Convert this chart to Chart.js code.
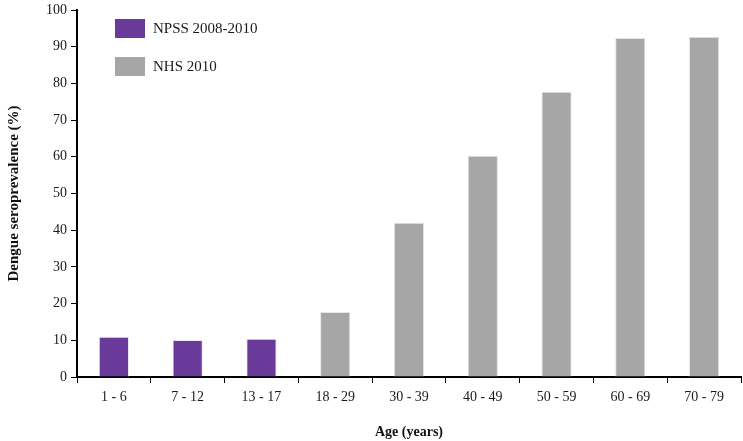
<!DOCTYPE html>
<html><head><meta charset="utf-8">
<script src="https://cdn.jsdelivr.net/npm/chart.js@4"></script>
<style>html,body{margin:0;padding:0;background:#fff}#wrap{width:743px;height:441px}</style>
</head><body><div id="wrap"><canvas id="c"></canvas></div>
<script>
const categories = ["1 - 6","7 - 12","13 - 17","18 - 29","30 - 39","40 - 49","50 - 59","60 - 69","70 - 79"];
const npssValues = [11.0, 10.1, 10.4, null, null, null, null, null, null];
const nhsValues = [null, null, null, 17.7, 42.0, 60.3, 77.7, 92.4, 92.7];
const seriesLabels = ["NPSS 2008-2010", "NHS 2010"];
const seriesColors = ["#6a3a9a", "#a6a6a6"];
const yTicks = [0,10,20,30,40,50,60,70,80,90,100];

const FONT = "'Liberation Serif', 'Times New Roman', serif";

const legendPlugin = {
  id: 'customLegend',
  afterDraw(chart) {
    const ctx = chart.ctx;
    const area = chart.chartArea;
    ctx.save();
    chart.data.datasets.forEach((ds, i) => {
      const x = area.left + 38;
      const y = area.top + 9 + i * 38;
      ctx.fillStyle = ds.backgroundColor;
      ctx.fillRect(x, y, 30, 19);
      ctx.fillStyle = '#1a1a1a';
      ctx.font = "15px " + FONT;
      ctx.textBaseline = 'middle';
      ctx.textAlign = 'left';
      ctx.fillText(ds.label, x + 38, y + 10);
    });
    ctx.restore();
  }
};

new Chart(document.getElementById('c'), {
  type: 'bar',
  data: {
    labels: categories,
    datasets: [
      { label: seriesLabels[0], data: npssValues, backgroundColor: seriesColors[0], borderColor: '#ece6f2', borderWidth: 1, barPercentage: 0.41, categoryPercentage: 1.0 },
      { label: seriesLabels[1], data: nhsValues, backgroundColor: seriesColors[1], borderColor: '#e6e6e6', borderWidth: 1, barPercentage: 0.41, categoryPercentage: 1.0 }
    ]
  },
  options: {
    responsive: true,
    maintainAspectRatio: false,
    animation: false,
    layout: { padding: { left: 5, right: 2, top: 10, bottom: 0 } },
    plugins: { legend: { display: false }, tooltip: { enabled: false } },
    scales: {
      x: {
        stacked: true,
        grid: { offset: true, drawOnChartArea: false, color: '#000', tickLength: 6, tickColor: '#000' },
        border: { color: '#000', width: 2 },
        ticks: { color: '#1a1a1a', font: { family: FONT, size: 14 }, padding: 6, maxRotation: 0 },
        title: { display: true, text: 'Age (years)', color: '#111', font: { family: FONT, size: 14, weight: 'bold' }, padding: { top: 14, bottom: 0 } },
        afterFit(s) { s.height = 64; }
      },
      y: {
        stacked: true,
        min: 0, max: 100,
        afterBuildTicks(s) { s.ticks = yTicks.map(v => ({ value: v })); },
        grid: { drawOnChartArea: false, color: '#000', tickLength: 6, tickColor: '#000' },
        border: { color: '#000', width: 2 },
        ticks: { color: '#1a1a1a', font: { family: FONT, size: 14 }, padding: 4 },
        title: { display: true, text: 'Dengue seroprevalence (%)', color: '#111', font: { family: FONT, size: 15, weight: 'bold' }, padding: { top: 0, bottom: 4 } },
        afterFit(s) { s.width = 72; s.paddingTop = 0; s.paddingBottom = 0; }
      }
    }
  },
  plugins: [legendPlugin]
});
</script>
</body></html>
